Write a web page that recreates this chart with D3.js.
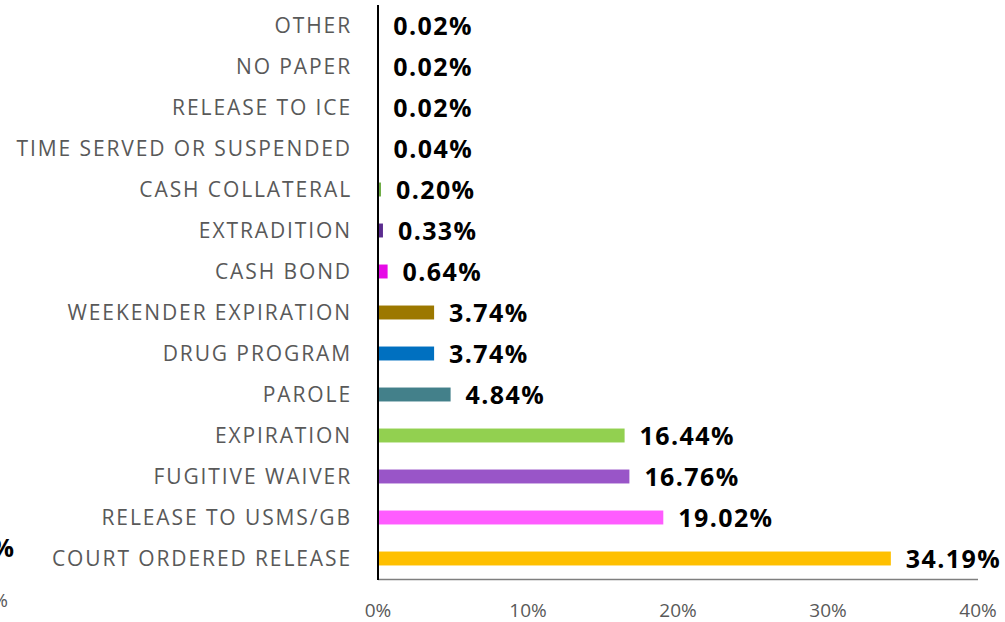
<!DOCTYPE html>
<html>
<head>
    <meta charset="utf-8">
    <title>Release reasons</title>
    <script src="https://d3js.org/d3.v7.min.js"></script>
    <style>
        body { margin: 0; background: #fff; }
    </style>
</head>
<body>
    <script>
        var categories = ["OTHER", "NO PAPER", "RELEASE TO ICE", "TIME SERVED OR SUSPENDED",
            "CASH COLLATERAL", "EXTRADITION", "CASH BOND", "WEEKENDER EXPIRATION",
            "DRUG PROGRAM", "PAROLE", "EXPIRATION", "FUGITIVE WAIVER",
            "RELEASE TO USMS/GB", "COURT ORDERED RELEASE"];
        var values = [0.02, 0.02, 0.02, 0.04, 0.20, 0.33, 0.64, 3.74, 3.74, 4.84, 16.44, 16.76, 19.02, 34.19];
        var colors = ["#7f7f7f", "#7f7f7f", "#7f7f7f", "#7f7f7f", "#70ad47", "#5b2c8f", "#e60be6", "#9c7800",
            "#0070c0", "#43808a", "#92d050", "#9955c8", "#ff5cff", "#ffc000"];
        var ticks = [0, 10, 20, 30, 40];

        var width = 1005;
        var height = 622;

        var svg = d3.select("body").append("svg")
            .attr("width", width)
            .attr("height", height);

        var x = d3.scaleLinear()
            .domain([0, 40])
            .range([378, 978]);

        var y = d3.scaleBand()
            .domain(categories)
            .range([5, 579])
            .paddingInner(0.66)
            .paddingOuter(0.33);

        var data = categories.map(function(c, i) {
            return { name: c, value: values[i], color: colors[i] };
        });

        // bars
        svg.selectAll("rect.bar")
            .data(data)
            .enter()
            .append("rect")
            .attr("class", "bar")
            .attr("x", x(0))
            .attr("y", function(d) { return y(d.name); })
            .attr("width", function(d) { return x(d.value) - x(0); })
            .attr("height", y.bandwidth())
            .attr("fill", function(d) { return d.color; });

        // category labels
        svg.selectAll("text.cat")
            .data(data)
            .enter()
            .append("text")
            .attr("class", "cat")
            .attr("x", 352)
            .attr("y", function(d) { return y(d.name) + y.bandwidth() / 2; })
            .attr("dy", "0.36em")
            .attr("text-anchor", "end")
            .style("font-family", "'Open Sans', sans-serif")
            .style("font-size", "21px")
            .style("letter-spacing", "1.9px")
            .style("fill", "#595959")
            .text(function(d) { return d.name; });

        // value labels
        svg.selectAll("text.val")
            .data(data)
            .enter()
            .append("text")
            .attr("class", "val")
            .attr("x", function(d) { return x(d.value) + 15; })
            .attr("y", function(d) { return y(d.name) + y.bandwidth() / 2; })
            .attr("dy", "0.38em")
            .style("font-family", "'Open Sans', Lato, sans-serif")
            .style("font-size", "25px")
            .style("font-weight", "bold")
            .style("letter-spacing", "1.4px")
            .style("fill", "#000")
            .text(function(d) { return d.value.toFixed(2) + "%"; });

        // x axis
        svg.append("line")
            .attr("x1", x(0)).attr("x2", x(40))
            .attr("y1", 579.5).attr("y2", 579.5)
            .style("stroke", "#7f7f7f")
            .style("stroke-width", 1.5);

        svg.selectAll("text.tick")
            .data(ticks)
            .enter()
            .append("text")
            .attr("class", "tick")
            .attr("x", function(d) { return x(d); })
            .attr("y", 617)
            .attr("text-anchor", "middle")
            .style("font-family", "'Open Sans', sans-serif")
            .style("font-size", "19px")
            .style("fill", "#595959")
            .text(function(d) { return d + "%"; });

        // y axis
        svg.append("line")
            .attr("x1", x(0)).attr("x2", x(0))
            .attr("y1", 5).attr("y2", 580)
            .style("stroke", "#000")
            .style("stroke-width", 2);

        // cut-off pieces of a neighbouring chart at the left edge
        svg.append("text")
            .attr("x", 14).attr("y", 557)
            .attr("text-anchor", "end")
            .style("font-family", "'Open Sans', sans-serif")
            .style("font-size", "25px")
            .style("font-weight", "bold")
            .text("%");
        svg.append("text")
            .attr("x", 8).attr("y", 607)
            .attr("text-anchor", "end")
            .style("font-family", "'Open Sans', sans-serif")
            .style("font-size", "19px")
            .style("fill", "#595959")
            .text("%");
    </script>
</body>
</html>
